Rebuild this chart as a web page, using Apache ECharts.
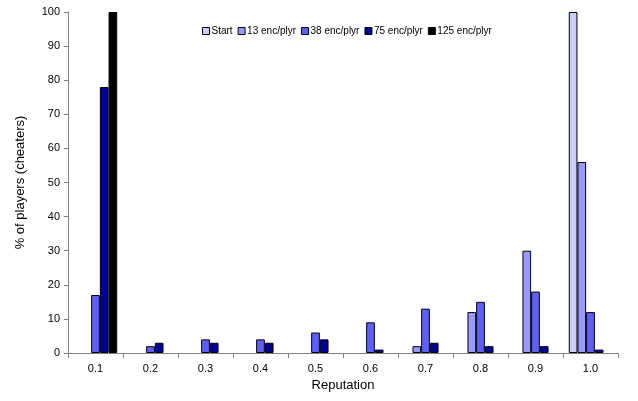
<!DOCTYPE html>
<html>
<head>
<meta charset="utf-8">
<script src="https://cdn.jsdelivr.net/npm/echarts@6/dist/echarts.min.js"></script>
<style>html,body{margin:0;padding:0;background:#fff;}#c{width:638px;height:401px;}</style>
</head>
<body>
<div id="c"></div>
<script>
var categories = ['0.1','0.2','0.3','0.4','0.5','0.6','0.7','0.8','0.9','1.0'];
var seriesNames = ['Start','13 enc/plyr','38 enc/plyr','75 enc/plyr','125 enc/plyr'];
var startVals = [0,0,0,0,0,0,0,0,0,100];
var enc13Vals = [0,0,0,0,0,0,2,12,30,56];
var enc38Vals = [17,2,4,4,6,9,13,15,18,12];
var enc75Vals = [78,3,3,3,4,1,3,2,2,1];
var enc125Vals = [100,0,0,0,0,0,0,0,0,0];
var yTicks = [0,10,20,30,40,50,60,70,80,90,100];
var colors = ['#CCCCFF','#9999FF','#5F5FFF','#000099','#000000'];

var allVals = [startVals, enc13Vals, enc38Vals, enc75Vals, enc125Vals];
var font = 'Liberation Sans, Arial, sans-serif';
var series = allVals.map(function(v, i){
  return {
    name: seriesNames[i], type: 'bar',
    data: v.map(function(x){ return x === 0 ? '-' : x; }),
    barGap: '0%', barCategoryGap: '21%',
    itemStyle: {color: colors[i], borderColor: '#000', borderWidth: 1},
    emphasis: {disabled: true}
  };
});
var chart = echarts.init(document.getElementById('c'));
chart.setOption({
  animation: false,
  textStyle: {fontFamily: font},
  grid: {left: 68, right: 20, top: 12, bottom: 48},
  legend: {
    top: 21, left: 197, itemWidth: 7, itemHeight: 7, itemGap: 5,
    icon: 'rect',
    textStyle: {fontSize: 10, color: '#000', fontFamily: font, padding: [0,0,0,-3]},
    itemStyle: {borderColor: '#000', borderWidth: 1},
    data: seriesNames
  },
  xAxis: {
    type: 'category', data: categories,
    name: 'Reputation', nameLocation: 'middle', nameGap: 25,
    nameTextStyle: {fontSize: 13, color: '#000'},
    axisLine: {lineStyle: {color: '#808080', width: 1}},
    axisTick: {show: true, length: 5, lineStyle: {color: '#808080'}},
    axisLabel: {fontSize: 11, color: '#000', margin: 10},
    splitLine: {show: false}
  },
  yAxis: {
    type: 'value', min: 0, max: 100, interval: 10,
    name: '% of players (cheaters)', nameLocation: 'middle', nameGap: 41,
    nameTextStyle: {fontSize: 13, color: '#000'},
    axisLine: {show: true, lineStyle: {color: '#808080', width: 1}},
    axisTick: {show: true, length: 4, lineStyle: {color: '#808080'}},
    axisLabel: {fontSize: 11, color: '#000', margin: 8, customValues: yTicks},
    splitLine: {show: false}
  },
  series: series
});
</script>
</body>
</html>
